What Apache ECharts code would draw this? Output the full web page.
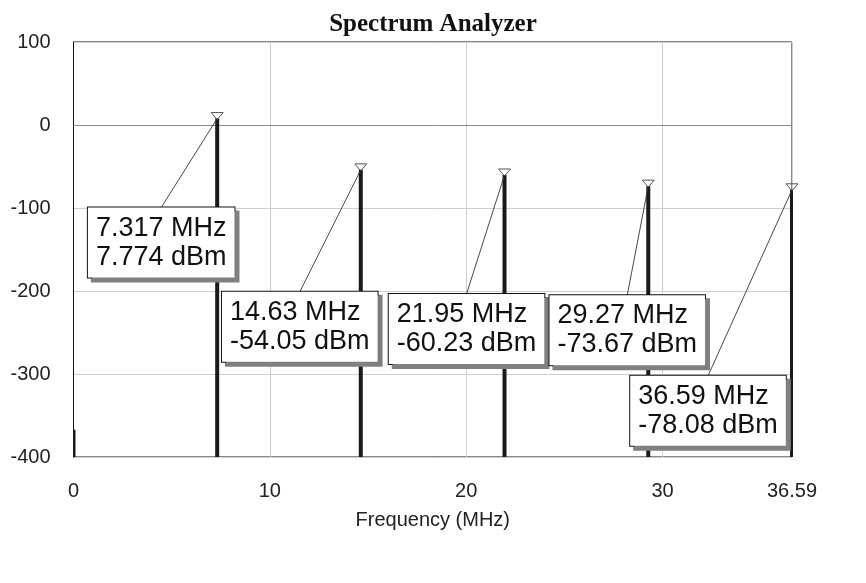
<!DOCTYPE html>
<html><head><meta charset="utf-8">
<script src="https://cdn.jsdelivr.net/npm/echarts@6/dist/echarts.min.js"></script>
<style>html,body{margin:0;padding:0;background:#fff}#c{width:866px;height:583px}</style>
</head><body><div id="c"></div>
<script>
// spectral lines (MHz, dBm)
const frequencies = [0, 7.317, 14.63, 21.95, 29.27, 36.59];
const levels = [-367, 7.774, -54.05, -60.23, -73.67, -78.08];
// marked peaks
const markerFreqs = [7.317, 14.63, 21.95, 29.27, 36.59];
const markerLevels = [7.774, -54.05, -60.23, -73.67, -78.08];
const markerFreqText = ['7.317', '14.63', '21.95', '29.27', '36.59'];
const markerLevelText = ['7.774', '-54.05', '-60.23', '-73.67', '-78.08'];
// axis tick labels
const xTickLabels = [0, 10, 20, 30, 36.59];
const yTickLabels = [-400, -300, -200, -100, 0, 100];
// label box placement relative to its peak, in pixels: [dx to box centre, dy to box top]
const labelOffsets = [[-56, 89], [-61, 122], [-38, 119], [-21, 109], [-84, 186]];

const chart = echarts.init(document.getElementById('c'), null, {renderer: 'canvas'});
const FONT = '"Liberation Sans", Arial, sans-serif';
const LABEL_SIZE = 27, PAD_X = 8;
const measureCtx = document.createElement('canvas').getContext('2d');
measureCtx.font = LABEL_SIZE + 'px ' + FONT;
function textWidth(lines) {
  return Math.max.apply(null, lines.map(l => measureCtx.measureText(l).width));
}

chart.setOption({
  animation: false,
  backgroundColor: '#fff',
  title: {
    text: 'Spectrum Analyzer',
    left: 'center',
    top: 7,
    textStyle: {fontFamily: '"Liberation Serif", "Times New Roman", serif', fontWeight: 'bold', fontSize: 25, color: '#111'}
  },
  grid: {left: 73.5, right: 74, top: 42, bottom: 126, show: true, borderColor: '#111', borderWidth: 1, backgroundColor: 'transparent'},
  xAxis: {
    type: 'value',
    min: xTickLabels[0],
    max: xTickLabels[xTickLabels.length - 1],
    interval: 10,
    name: 'Frequency (MHz)',
    nameLocation: 'middle',
    nameGap: 53,
    nameTextStyle: {fontFamily: FONT, fontSize: 20, color: '#222'},
    axisLine: {show: true, lineStyle: {color: '#888', width: 1}},
    axisTick: {show: false},
    axisLabel: {
      customValues: xTickLabels,
      formatter: v => String(v),
      fontFamily: FONT, fontSize: 20, color: '#222', margin: 24
    },
    splitLine: {show: true, lineStyle: {color: '#cfcfcf', width: 1}}
  },
  yAxis: {
    type: 'value',
    min: yTickLabels[0],
    max: yTickLabels[yTickLabels.length - 1],
    interval: 100,
    axisLine: {show: true, lineStyle: {color: '#111', width: 1}},
    axisTick: {show: false},
    axisLabel: {fontFamily: FONT, fontSize: 20, color: '#222', margin: 23},
    splitLine: {show: true, lineStyle: {color: '#cfcfcf', width: 1}}
  },
  series: [
    {
      type: 'custom',
      clip: true,
      z: 2,
      data: frequencies.map((f, i) => [f, levels[i]]),
      renderItem: (params, api) => {
        const top = api.coord([api.value(0), api.value(1)]);
        const base = api.coord([api.value(0), yTickLabels[0]]);
        return {
          type: 'line',
          shape: {x1: top[0], y1: top[1], x2: base[0], y2: base[1]},
          style: {stroke: '#1a1a1a', lineWidth: 4}
        };
      }
    },
    {
      type: 'custom',
      clip: false,
      z: 5,
      data: markerFreqs.map((f, i) => [f, markerLevels[i]]),
      renderItem: (params, api) => {
        const i = params.dataIndex;
        const p = api.coord([api.value(0), api.value(1)]);
        const off = labelOffsets[i];
        const lines = [markerFreqText[i] + ' MHz', markerLevelText[i] + ' dBm'];
        const w = textWidth(lines) + 2 * PAD_X;
        const bx = p[0] + off[0], by = p[1] + off[1];
        return {
          type: 'group',
          children: [
            {type: 'polygon', shape: {points: [[p[0], p[1] + 1], [p[0] - 6, p[1] - 6], [p[0] + 6, p[1] - 6]]},
             style: {fill: 'rgba(255,255,255,0)', stroke: '#555', lineWidth: 1}},
            {type: 'line', shape: {x1: p[0], y1: p[1], x2: bx, y2: by},
             style: {stroke: '#333', lineWidth: 0.9}},
            {type: 'text', x: bx - w / 2, y: by,
             style: {
               text: lines.join('\n'),
               align: 'left', verticalAlign: 'top',
               fontFamily: FONT, fontSize: LABEL_SIZE, lineHeight: 29, fill: '#111',
               backgroundColor: '#fff', borderColor: '#111', borderWidth: 1,
               padding: [6, PAD_X, 6, PAD_X],
               shadowColor: '#808080', shadowOffsetX: 4, shadowOffsetY: 4, shadowBlur: 0
             }}
          ]
        };
      }
    }
  ]
});
</script>
</body></html>
